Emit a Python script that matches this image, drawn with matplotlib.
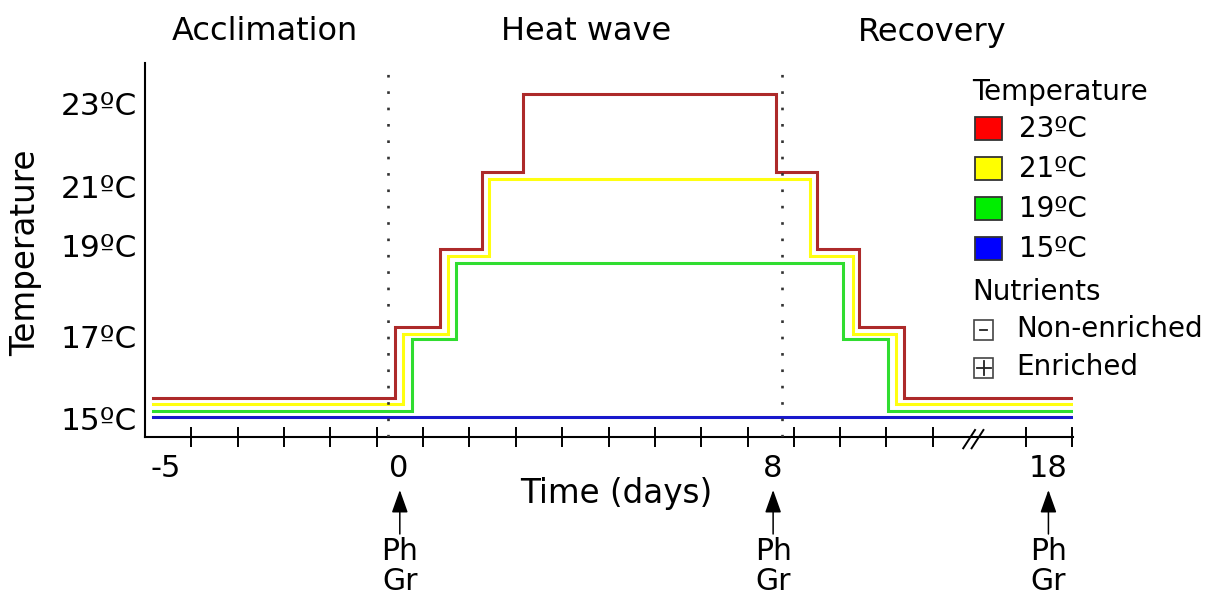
import matplotlib
matplotlib.use('Agg')
import matplotlib.pyplot as plt
from matplotlib.patches import Rectangle
from matplotlib.lines import Line2D

plt.rcParams['font.family'] = ['DejaVu Sans', 'Noto Sans']

W, H, DPI = 1210, 599, 100

# ---------------- data ----------------
phases = ['Acclimation', 'Heat wave', 'Recovery']

# step series: breakpoints (days, schematic) and held temperature levels (°C, schematic offsets)
red_x = [-4.78, 0.14, 1.06, 1.90, 2.75, 7.88, 8.72, 9.57, 10.48, 13.91]
red_y = [15.15, 17.0, 19.0, 21.0, 23.0, 21.0, 19.0, 17.0, 15.15, 15.15]
yellow_x = [-4.78, 0.31, 1.22, 2.06, 8.57, 9.44, 10.31, 13.91]
yellow_y = [15.0, 16.82, 18.84, 20.82, 18.84, 16.82, 15.0, 15.0]
green_x = [-4.78, 0.48, 1.39, 9.24, 10.16, 13.91]
green_y = [14.83, 16.68, 18.66, 16.68, 14.83, 14.83]
blue_x = [-4.78, 13.91]
blue_y = [14.66, 14.66]

series_x = [red_x, yellow_x, green_x, blue_x]
series_y = [red_y, yellow_y, green_y, blue_y]
line_colors = ['#ad2a2a', '#ffff10', '#30dd30', '#1818cc']

phase_bounds = [0, 8]

xtick_pos = [-4.51, 0.21, 7.81, 13.41]
xtick_labels = ['-5', '0', '8', '18']
xtick_marks = [-3.99, -3.05, -2.11, -1.17, -0.23, 0.71, 1.65, 2.60, 3.54, 4.48,
               5.42, 6.36, 7.30, 8.24, 9.18, 10.12, 11.07, 12.95, 13.89]
ytick_pos = [22.77, 20.62, 19.11, 16.74, 14.64]
ytick_labels = ['23ºC', '21ºC', '19ºC', '17ºC', '15ºC']

sample_days = [0.24, 7.82, 13.41]
sample_labels = ['Ph', 'Gr']

legend_temps = ['23ºC', '21ºC', '19ºC', '15ºC']
legend_colors = ['#ff0000', '#ffff00', '#00ee00', '#0000ff']
nutrient_labels = ['Non-enriched', 'Enriched']

# ---------------- figure ----------------
fig = plt.figure(figsize=(W / DPI, H / DPI), dpi=DPI)
ax = fig.add_axes([145 / W, 1 - 437 / H, (1073 - 145) / W, (437 - 63) / H])
ax.set_xlim(-4.934, 13.909)
ax.set_ylim(14.156, 23.81)

for xs, ys, c in zip(series_x, series_y, line_colors):
    ax.plot(xs, ys, drawstyle='steps-post', color=c, lw=2.2, solid_joinstyle='miter', zorder=2)

for b in phase_bounds:
    ax.axvline(b, color='#333333', lw=1.9, linestyle=(0, (1, 5.2)), zorder=3)

for s in ['top', 'right']:
    ax.spines[s].set_visible(False)
for s in ['left', 'bottom']:
    ax.spines[s].set_linewidth(1.5)
    ax.spines[s].set_color('black')

ax.set_xticks(xtick_pos)
ax.set_xticklabels(xtick_labels, fontsize=22)
ax.set_xticks(xtick_marks, minor=True)
ax.tick_params(axis='x', which='major', length=0, pad=12)
ax.tick_params(axis='x', which='minor', direction='inout', length=14.5, width=1.4, color='black')
ax.set_yticks(ytick_pos)
ax.set_yticklabels(ytick_labels, fontsize=22.5)
ax.tick_params(axis='y', which='both', length=0, pad=6)

# axis break marks
for x0, x1 in [(11.68, 11.92), (11.85, 12.09)]:
    ax.plot([x0, x1], [13.865, 14.337], color='black', lw=1.4, clip_on=False, zorder=4)

# sampling arrows and labels
for d in sample_days:
    ax.annotate('', xy=(d, H - 490), xytext=(d, H - 534),
                xycoords=('data', 'figure pixels'), textcoords=('data', 'figure pixels'),
                arrowprops=dict(arrowstyle='-|>,head_length=1.4,head_width=0.5',
                                color='black', lw=1.1, shrinkA=0, shrinkB=0))
    ax.annotate(sample_labels[0], xy=(d, H - 552), xycoords=('data', 'figure pixels'),
                ha='center', va='center', fontsize=21.5, annotation_clip=False)
    ax.annotate(sample_labels[1], xy=(d, H - 582), xycoords=('data', 'figure pixels'),
                ha='center', va='center', fontsize=21.5, annotation_clip=False)

# phase titles
for name, px in zip(phases, [265, 586.5, 932.5]):
    fig.text(px / W, 1 - 32 / H, name, ha='center', va='center', fontsize=23)

# axis labels
fig.text(26 / W, 1 - 253 / H, 'Temperature', rotation=90, ha='center', va='center', fontsize=23.5)
fig.text(616.7 / W, 1 - 494 / H, 'Time (days)', ha='center', va='center', fontsize=23.5)


def fx(px):
    return px / W


def fy(py):
    return 1 - py / H


# legend
LFS = 20
fig.text(fx(972), fy(91.7), 'Temperature', ha='left', va='center', fontsize=LFS)
for i, (lab, col) in enumerate(zip(legend_temps, legend_colors)):
    cy = 128.3 + 40 * i
    fig.add_artist(Rectangle((fx(975), fy(cy + 11.5)), 26.5 / W, 23 / H, transform=fig.transFigure,
                             facecolor=col, edgecolor='#333333', lw=1.3))
    fig.text(fx(1019), fy(cy + 1), lab, ha='left', va='center', fontsize=LFS)

fig.text(fx(972), fy(292), 'Nutrients', ha='left', va='center', fontsize=LFS)
for i, lab in enumerate(nutrient_labels):
    cy = 330 + 38 * i
    fig.add_artist(Rectangle((fx(973.5), fy(cy + 10)), 19.5 / W, 20 / H, transform=fig.transFigure,
                             facecolor='white', edgecolor='#444444', lw=1.2))
    if i == 0:
        fig.add_artist(Line2D([fx(980), fx(987)], [fy(cy), fy(cy)], transform=fig.transFigure,
                              color='#222222', lw=1.3))
    else:
        fig.add_artist(Line2D([fx(976.5), fx(990.5)], [fy(cy), fy(cy)], transform=fig.transFigure,
                              color='#222222', lw=1.3))
        fig.add_artist(Line2D([fx(983.5), fx(983.5)], [fy(cy - 7), fy(cy + 7)], transform=fig.transFigure,
                              color='#222222', lw=1.3))
    fig.text(fx(1016.5), fy(cy - 1), lab, ha='left', va='center', fontsize=LFS)

fig.savefig('out.png', dpi=DPI)
